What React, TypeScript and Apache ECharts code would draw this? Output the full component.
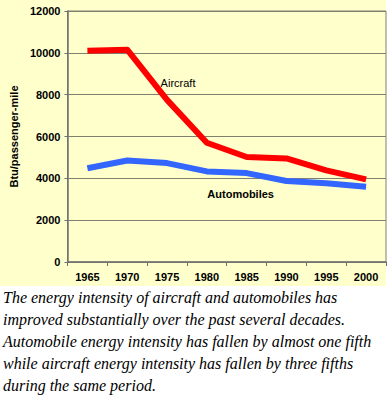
import React, { useEffect, useRef } from "react";
import * as echarts from "echarts";

const years = ["1965", "1970", "1975", "1980", "1985", "1990", "1995", "2000"];
const aircraft = [10100, 10150, 7750, 5700, 5020, 4950, 4380, 3950];
const automobiles = [4480, 4850, 4730, 4330, 4250, 3870, 3760, 3600];
const captionLines = [
  "The energy intensity of aircraft and automobiles has",
  "improved substantially over the past several decades.",
  "Automobile energy intensity has fallen by almost one fifth",
  "while aircraft energy intensity has fallen by three fifths",
  "during the same period.",
];

export default function App() {
  const ref = useRef<HTMLDivElement>(null);
  useEffect(() => {
    const chart = echarts.init(ref.current!, null, { renderer: "svg" });
    const font = "Arial, 'Liberation Sans', sans-serif";
    chart.setOption({
      animation: false,
      backgroundColor: "transparent",
      graphic: [
        {
          type: "rect",
          z: -10,
          shape: { x: 0, y: 0, width: 386, height: 286 },
          style: { fill: "#FFFFCC" },
          silent: true,
        },
      ],
      grid: {
        left: 60,
        top: 11,
        right: 2,
        bottom: 144,
        show: true,
        borderColor: "#808070",
        borderWidth: 1,
        backgroundColor: "transparent",
      },
      xAxis: {
        type: "category",
        data: years,
        boundaryGap: true,
        axisLine: { lineStyle: { color: "#707070", width: 1.5 } },
        axisTick: { show: true, length: 4, lineStyle: { color: "#707070" } },
        axisLabel: { color: "#000", fontWeight: "bold", fontSize: 11, fontFamily: font, margin: 9 },
      },
      yAxis: {
        type: "value",
        min: 0,
        max: 12000,
        interval: 2000,
        name: "Btu/passenger-mile",
        nameLocation: "middle",
        nameGap: 45,
        nameRotate: 90,
        nameTextStyle: { color: "#000", fontWeight: "bold", fontSize: 11, fontFamily: font },
        axisLine: { show: true, lineStyle: { color: "#707070", width: 1.5 } },
        axisTick: { show: true, length: 3, lineStyle: { color: "#707070" } },
        axisLabel: {
          color: "#000",
          fontWeight: "bold",
          fontSize: 11,
          fontFamily: font,
          margin: 7,
          formatter: (v: number) => String(v),
        },
        splitLine: { lineStyle: { color: "#808070", width: 1 } },
      },
      series: [
        {
          name: "Aircraft",
          type: "line",
          data: aircraft,
          symbol: "none",
          lineStyle: { color: "#FF0000", width: 6, join: "round", cap: "butt" },
          markPoint: {
            symbol: "circle",
            symbolSize: 1,
            itemStyle: { color: "rgba(0,0,0,0)" },
            data: [{ coord: [2, 8550], value: "Aircraft" }],
            label: {
              show: true,
              position: "inside",
              formatter: "Aircraft",
              color: "#000",
              fontSize: 11,
              fontFamily: font,
              offset: [11, 0],
            },
          },
        },
        {
          name: "Automobiles",
          type: "line",
          data: automobiles,
          symbol: "none",
          lineStyle: { color: "#3366FF", width: 6, join: "round", cap: "butt" },
          markPoint: {
            symbol: "circle",
            symbolSize: 1,
            itemStyle: { color: "rgba(0,0,0,0)" },
            data: [{ coord: [4, 3250], value: "Automobiles" }],
            label: {
              show: true,
              position: "inside",
              formatter: "Automobiles",
              color: "#000",
              fontSize: 11,
              fontWeight: "bold",
              fontFamily: font,
              offset: [-6, 0],
            },
          },
        },
      ],
    });
    return () => chart.dispose();
  }, []);
  return (
    <div style={{ position: "absolute", left: 0, top: 0, width: 388, height: 406, background: "#fff" }}>
      <div ref={ref} style={{ position: "absolute", left: 0, top: 0, width: 388, height: 406 }} />
      <div
        style={{
          position: "absolute",
          left: 3,
          top: 287,
          width: 385,
          fontFamily: "Liberation Serif, DejaVu Serif, serif",
          fontStyle: "italic",
          fontSize: 16,
          lineHeight: "22px",
          color: "#000",
          whiteSpace: "nowrap",
        }}
      >
        {captionLines.map((t, i) => (
          <div key={i}>{t}</div>
        ))}
      </div>
    </div>
  );
}
